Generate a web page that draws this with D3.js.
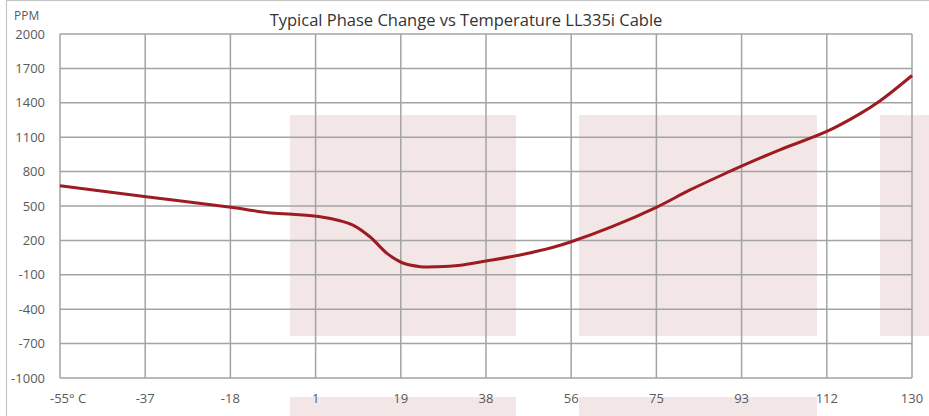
<!DOCTYPE html>
<html>
<head>
<meta charset="utf-8">
<script src="https://cdn.jsdelivr.net/npm/d3@7"></script>
<style>
  html, body { margin: 0; padding: 0; background: #fff; }
  svg { display: block; font-family: "Open Sans", "Noto Sans", sans-serif; }
</style>
</head>
<body>
<div id="chart"></div>
<script>
// temperature (deg C) along the x axis
var temps = [-55, -36.3, -17.9, -9.8, -4.6, 1.5, 5.8, 8.6, 12.3, 16.0, 19.3, 23.2, 27, 32,
             37.5, 44.9, 52.1, 56, 65, 74.6, 81.8, 89.8, 93.1, 101.3, 111.5, 118.1, 123.1, 130];
// phase change, PPM
var ppm = [677, 581, 489, 442, 428, 407, 372, 334, 232, 87, 5, -29, -30, -16,
           20, 73, 140, 188, 322, 491, 640, 790, 850, 990, 1150, 1290, 1418, 1638];

var xTickValues = [-55, -36.5, -18, 0.5, 19, 37.5, 56, 74.5, 93, 111.5, 130];
var xTickLabels = ["-55\u00b0 C", "-37", "-18", "1", "19", "38", "56", "75", "93", "112", "130"];
var yTicks = [-1000, -700, -400, -100, 200, 500, 800, 1100, 1400, 1700, 2000];

var title = "Typical Phase Change vs Temperature LL335i Cable";
var yTitle = "PPM";

// background watermark blocks (decoration, pixel boxes)
var watermark = [
  [290, 115, 226, 221], [579, 115, 238, 221], [880, 115, 60, 221],
  [290, 397, 226, 30], [579, 397, 238, 30]
];

var width = 929, height = 416;
var margin = {top: 34, right: 17, bottom: 38, left: 60};

var svg = d3.select("#chart").append("svg")
    .attr("width", width)
    .attr("height", height);

// outer frame
svg.append("rect")
    .attr("x", 6.5).attr("y", 0.5)
    .attr("width", 1000).attr("height", 1000)
    .attr("fill", "#fff")
    .attr("stroke", "#c6c6c6")
    .attr("stroke-width", 1.2);

svg.selectAll("rect.wm").data(watermark).enter().append("rect")
    .attr("class", "wm")
    .attr("x", function(d){ return d[0]; })
    .attr("y", function(d){ return d[1]; })
    .attr("width", function(d){ return d[2]; })
    .attr("height", function(d){ return d[3]; })
    .attr("fill", "#f3e6e7");

var x = d3.scaleLinear().domain([-55, 130]).range([margin.left, width - margin.right]);
var y = d3.scaleLinear().domain([-1000, 2000]).range([height - margin.bottom, margin.top]);

var grid = svg.append("g");
grid.selectAll("line.h").data(yTicks).enter().append("line")
    .attr("x1", x(-55)).attr("x2", x(130))
    .attr("y1", function(d){ return y(d); })
    .attr("y2", function(d){ return y(d); })
    .attr("stroke", "#a3a3a3").attr("stroke-width", 1.5);
grid.selectAll("line.v").data(xTickValues).enter().append("line")
    .attr("y1", y(-1000)).attr("y2", y(2000))
    .attr("x1", function(d){ return x(d); })
    .attr("x2", function(d){ return x(d); })
    .attr("stroke", "#a3a3a3").attr("stroke-width", 1.5);

// y labels
svg.append("g").selectAll("text").data(yTicks).enter().append("text")
    .attr("x", 45)
    .attr("y", function(d){ return y(d); })
    .attr("dy", "0.35em")
    .attr("text-anchor", "end")
    .attr("font-size", "13px")
    .attr("fill", "#595959")
    .text(function(d){ return d; });

// x labels
svg.append("g").selectAll("text").data(xTickValues).enter().append("text")
    .attr("x", function(d, i){ return i === 0 ? x(d) - 10 : x(d); })
    .attr("y", 398)
    .attr("dy", "0.35em")
    .attr("text-anchor", function(d, i){ return i === 0 ? "start" : "middle"; })
    .attr("font-size", "13px")
    .attr("fill", "#595959")
    .text(function(d, i){ return xTickLabels[i]; });

svg.append("text")
    .attr("x", 14).attr("y", 16)
    .attr("dy", "0.35em")
    .attr("font-size", "12px")
    .attr("fill", "#595959")
    .text(yTitle);

svg.append("text")
    .attr("x", 466).attr("y", 20)
    .attr("dy", "0.35em")
    .attr("text-anchor", "middle")
    .attr("font-size", "16.5px")
    .attr("fill", "#333")
    .text(title);

var line = d3.line()
    .x(function(d){ return x(d[0]); })
    .y(function(d){ return y(d[1]); })
    .curve(d3.curveCatmullRom.alpha(0.5));

svg.append("path")
    .datum(d3.zip(temps, ppm))
    .attr("d", line)
    .attr("fill", "none")
    .attr("stroke", "#9d1c22")
    .attr("stroke-width", 3)
    .attr("stroke-linejoin", "round");
</script>
</body>
</html>
